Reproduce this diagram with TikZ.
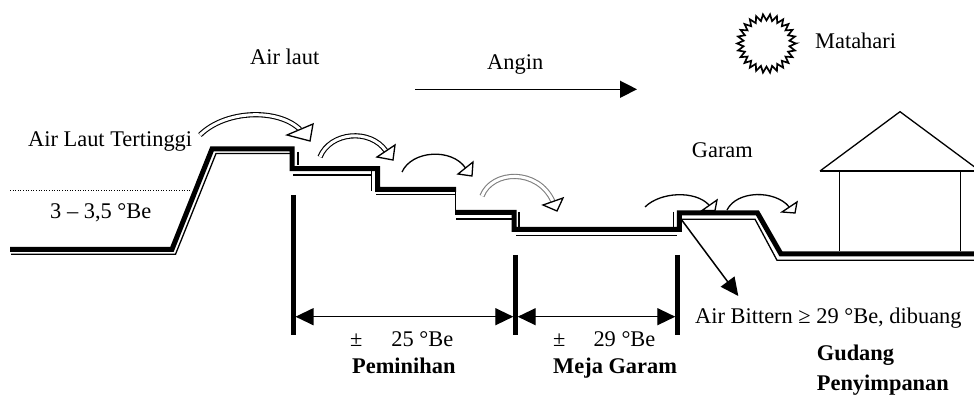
\documentclass[tikz,border=0pt]{standalone}
\usepackage{fontspec}
\setmainfont{Liberation Serif}
\usetikzlibrary{arrows.meta}
\begin{document}
\begin{tikzpicture}[x=1pt,y=-1pt,
  font=\fontsize{22.4}{26}\selectfont,
  thickline/.style={line width=5pt, line join=miter, line cap=butt},
  thinline/.style={line width=1.3pt},
  lbl/.style={anchor=base west, inner sep=0pt},
  lblb/.style={lbl, font=\fontsize{22.4}{26}\selectfont\bfseries},
  band/.style={line width=1.1pt, double=white, double distance=3pt},
  flow/.style={line width=1.3pt},
  headtri/.style={fill=white, draw=black, line width=1.3pt, line join=miter},
  dimline/.style={line width=4.5pt},
  dimarrow/.style={line width=1.3pt, {Triangle[length=18pt,width=17pt]}-{Triangle[length=18pt,width=17pt]}},
  onearrow/.style={line width=1.5pt, -{Triangle[length=18pt,width=17pt]}}
]
\useasboundingbox (0,0) rectangle (974,395);

% ground profile: thick part
\draw[thickline] (10,249.3) -- (172,249.3) -- (212,149) -- (292,149) -- (292,168.7)
  -- (377.5,168.7) -- (377.5,189.5) -- (456,189.5);
\draw[thickline] (455,212.3) -- (514,212.3) -- (514,229.5) -- (679.3,229.5)
  -- (679.3,213) -- (757.5,213) -- (781,254) -- (974,254);

% ground profile: thin companion lines
\draw[thinline] (11,254.3) -- (175.5,254.3) -- (216,153.6) -- (290,153.6);
\draw[thinline] (298,151.7) -- (298,165.5);
\draw[thinline] (293,175) -- (371.5,175);
\draw[thinline] (371.5,171) -- (371.5,191);
\draw[thinline] (376,194.7) -- (455,194.7);
\draw[thinline] (455.7,190) -- (455.7,212);
\draw[thinline] (456,219) -- (512,219);
\draw[thinline] (519,212) -- (519,230);
\draw[thinline] (516,235.7) -- (677,235.7);
\draw[thinline] (673.5,211.7) -- (673.5,227);
\draw[thinline] (682,219.2) -- (755,219.2) -- (777,260.3) -- (974,260.3);

% dotted sea level
\draw[line width=0.9pt, dash pattern=on 1pt off 1.6pt] (10,190) -- (192,190);

% flow arcs
\draw[band] (200,135) .. controls (225,110) and (278,108) .. (300,129.5);
\draw[headtri] (313,124) -- (310,141) -- (287,135) -- cycle;
\draw[band] (320,157) .. controls (330,132) and (370,128) .. (386,151);
\draw[headtri] (395,145) -- (393,160) -- (377,157) -- cycle;
\draw[flow] (402,172) .. controls (412,150) and (452,148) .. (465.5,168);
\draw[headtri] (473,162) -- (472,176) -- (458,174) -- cycle;
\draw[band, draw=gray] (482,196) .. controls (492,170) and (538,168) .. (553,201.5);
\draw[headtri] (563,198) -- (557,211) -- (543,205) -- cycle;
\draw[flow] (645,207) .. controls (660,192) and (695,190) .. (709,205);
\draw[headtri] (717,200) -- (715,210.5) -- (702,210.5) -- cycle;
\draw[flow] (727,210) .. controls (737,190) and (775,190) .. (789,206.7);
\draw[headtri] (797,202) -- (795,213) -- (782,212) -- cycle;

% Bittern outflow
\coordinate (bitA) at (681,219);
\coordinate (bitB) at (738.3,296);
\draw[onearrow] (bitA) -- (bitB);

% wind arrow
\coordinate (angA) at (415,89.3);
\coordinate (angB) at (637,89.3);
\draw[onearrow, line width=1.4pt, -{Triangle[length=17pt,width=17pt]}] (angA) -- (angB);

% dimension lines
\draw[dimline] (293.3,195) -- (293.3,335);
\draw[dimline] (515.5,255) -- (515.5,335);
\draw[dimline] (677.5,255) -- (677.5,335);
\coordinate (d1a) at (295.5,316.7);
\coordinate (d1b) at (513.3,316.7);
\coordinate (d2a) at (517.7,316.7);
\coordinate (d2b) at (675.3,316.7);
\draw[dimarrow] (d1a) -- (d1b);
\draw[dimarrow] (d2a) -- (d2b);

% sun
\draw[line width=1.7pt, line join=miter]
  plot[samples=53, domain=0:52, variable=\t]
  ({766.5+(26.2+3.1*cos(180*\t))*cos(360/52*\t)}, {43.5+(26.2+3.1*cos(180*\t))*sin(360/52*\t)}) -- cycle;

% storehouse
\draw[thinline, line join=miter] (820,171) -- (900,111.7) -- (980,171);
\draw[thinline] (820,171) -- (980,171);
\draw[thinline] (839.3,171) -- (839.3,251.5);
\draw[thinline] (960.7,171) -- (960.7,251.5);

% labels
\node[lbl] (tinggi) at (28,146.7) {Air Laut Tertinggi};
\node[lbl] (be1) at (50,218.3) {3 – 3,5 °Be};
\node[lbl] (airlaut) at (250,65) {Air laut};
\node[lbl] (angin) at (487,70) {Angin};
\node[lbl] (matahari) at (815,48.3) {Matahari};
\node[lbl] (garam) at (691.7,157.3) {Garam};
\node[lbl] (be25) at (350,346.7) {±\hspace{29pt}25 °Be};
\node[lblb] (pemin) at (352,373.3) {Peminihan};
\node[lbl] (be29) at (553,346.7) {±\hspace{28pt}29 °Be};
\node[lblb] (meja) at (553,373.3) {Meja Garam};
\node[lbl] (bittern) at (695,323.3) {Air Bittern ≥ 29 °Be, dibuang};
\node[lblb] (gudang) at (816.7,360) {Gudang};
\node[lblb] (penyimp) at (816.7,390) {Penyimpanan};
\end{tikzpicture}
\end{document}
